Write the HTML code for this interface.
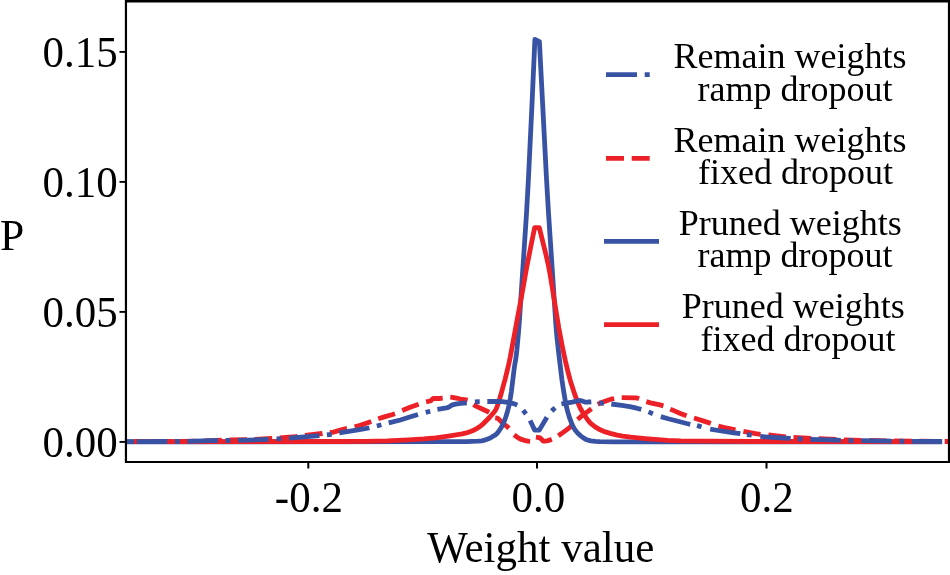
<!DOCTYPE html>
<html>
<head>
<meta charset="utf-8">
<title>Weight distribution</title>
<style>
html, body { margin: 0; padding: 0; background: #ffffff; }
body { width: 950px; height: 575px; overflow: hidden; font-family: "Liberation Serif", serif; }
svg { display: block; will-change: transform; }
svg text { font-family: "Liberation Serif", serif; fill: #000; }
</style>
</head>
<body>
<svg width="950" height="575" viewBox="0 0 950 575">
<rect x="0" y="0" width="950" height="575" fill="#ffffff"/>
<!-- curves -->
<g fill="none" stroke-width="4.8" stroke-linecap="butt">
<path d="M279.8,437.9 L295.5,436.6 L297.3,436.4 M305.0,435.3 L322.0,433.5 L322.5,433.4 M329.9,432.7 L333.5,432.1 L339.5,430.4 L346.0,428.6 L347.0,428.4 M354.6,426.9 L359.5,425.6 L367.0,423.0 L371.3,421.5 M378.2,418.8 L383.5,417.1 L392.5,414.5 L395.0,413.7 M402.2,410.4 L409.5,407.5 L418.7,404.3 M426.1,401.9 L430.0,401.0 L430.5,400.8 L431.0,400.5 L432.5,399.1 L433.0,398.7 L433.5,398.5 L439.5,398.5 L442.7,398.2 M450.3,397.2 L452.5,397.4 L456.5,398.2 L460.5,399.0 L466.0,399.8 L467.6,400.2 M473.4,404.6 L476.0,406.1 L487.0,411.2 L489.1,412.4 M495.2,417.9 L497.0,418.1 L498.0,418.6 L499.5,419.9 L502.0,422.5 L504.5,424.6 L507.5,426.9 L509.0,428.3 M514.1,434.8 L517.0,437.0 L519.5,438.5 L521.5,439.4 L525.5,440.7 L528.0,441.2 L530.1,441.4 M535.9,437.1 L539.0,437.5 L539.5,437.6 L540.0,437.9 L541.0,438.8 L542.5,440.4 L543.0,440.9 L543.5,441.1 L544.5,441.2 L547.0,440.8 L549.5,440.2 L551.8,439.2 M558.3,435.8 L561.5,433.6 L569.5,427.6 L572.0,425.3 L572.2,425.1 M577.6,419.5 L581.5,416.2 L588.0,411.3 L591.5,408.7 M597.7,404.4 L601.0,402.8 L606.5,400.8 L611.5,399.1 L614.2,398.5 M621.7,397.6 L634.5,397.8 L636.5,397.9 L637.5,398.2 L639.1,398.8 M646.3,401.6 L650.5,402.8 L660.0,404.9 L663.4,405.9 M670.3,409.1 L681.0,413.7 L686.6,415.8 M694.0,418.0 L708.5,422.6 L710.8,423.4 M718.3,426.1 L724.5,427.6 L735.5,429.8 M743.4,431.3 L755.5,433.6 L760.5,434.3 L760.7,434.3 M768.4,434.9 L779.0,436.2 L785.9,436.9 M793.5,437.5 L811.1,438.4 M254.6,439.3 L272.2,438.5 M229.4,440.0 L247.0,439.6 M204.2,440.9 L221.8,440.2 M179.0,441.4 L196.6,441.1 M153.8,441.6 L171.4,441.5 M134.0,441.6 L146.2,441.6 M818.7,438.7 L836.3,439.5 M843.9,439.8 L861.5,440.3 M869.1,440.5 L886.7,440.8 M894.3,440.9 L911.9,441.2 M919.5,441.2 L937.1,441.4 M944.7,441.5 L948.0,441.5" stroke="#ec2027"/>
<path d="M127.0,441.8 L453.9,441.7 L466.4,441.6 L477.9,441.2 L481.9,440.8 L484.4,440.2 L488.4,438.8 L491.4,437.3 L495.4,434.9 L496.9,433.6 L498.4,431.8 L500.9,428.0 L502.9,424.3 L504.4,420.9 L505.9,416.8 L507.4,411.8 L508.9,405.8 L510.4,397.9 L511.4,391.3 L514.4,367.0 L514.9,363.8 L515.4,361.3 L515.9,358.2 L516.9,349.7 L518.4,333.3 L519.4,320.8 L522.4,275.5 L526.4,215.1 L528.4,179.6 L531.9,106.4 L534.9,39.3 L539.4,41.7 L546.4,176.9 L548.4,211.3 L555.9,325.2 L556.9,336.9 L558.4,350.5 L561.9,379.5 L563.4,389.6 L565.4,401.6 L566.4,406.6 L567.9,412.4 L569.4,417.3 L571.4,422.7 L572.9,426.2 L574.4,428.9 L575.9,431.0 L578.4,433.8 L580.9,436.1 L583.4,437.9 L585.9,439.4 L587.9,440.1 L590.8,440.8 L595.3,441.4 L599.8,441.6 L614.8,441.8 L942.0,441.8" stroke="#3953a4" stroke-linejoin="round"/>
<path d="M134.0,441.6 L338.8,441.5 L364.8,441.4 L387.3,440.9 L408.3,439.9 L423.8,438.9 L435.8,437.8 L448.3,436.1 L462.3,433.9 L466.3,432.9 L471.2,431.2 L474.7,429.7 L477.2,428.3 L480.7,425.9 L483.2,423.8 L489.7,417.2 L494.2,412.0 L495.7,409.8 L496.7,407.7 L498.7,402.0 L500.7,395.3 L505.2,378.8 L508.2,366.7 L510.2,357.2 L517.2,319.5 L521.7,295.6 L526.7,267.4 L531.7,242.0 L534.7,227.6 L539.3,227.6 L546.3,256.1 L548.3,265.0 L550.3,275.6 L556.3,312.7 L558.8,327.9 L562.3,346.4 L565.3,360.6 L568.3,373.2 L570.8,382.3 L573.8,391.6 L577.3,401.4 L579.3,406.2 L581.3,410.1 L583.8,414.2 L587.8,420.0 L589.8,422.4 L592.3,424.7 L594.8,426.6 L597.8,428.5 L601.3,430.3 L605.3,431.9 L610.2,433.4 L617.2,435.1 L622.7,436.1 L630.7,437.2 L645.2,438.6 L667.7,440.3 L680.7,440.8 L704.2,441.1 L753.6,441.5 L942.0,441.6" stroke="#ec2027" stroke-linejoin="round"/>
<path d="M136.8,441.6 L167.3,441.5 M187.3,441.3 L202.5,440.9 L209.5,440.6 L217.8,440.5 M238.0,440.3 L260.5,439.7 L268.5,439.4 M289.0,438.2 L319.4,435.6 M339.3,432.9 L360.9,429.3 L368.9,428.0 L369.4,427.9 M388.7,422.9 L400.4,420.0 L408.9,417.3 L418.0,414.5 M437.4,409.3 L441.9,408.6 L446.4,407.8 L448.4,407.3 L449.4,406.8 L451.9,405.1 L453.4,404.6 L456.9,403.8 L460.9,403.3 L466.8,402.8 M487.3,401.5 L497.4,401.4 L502.4,401.7 L509.4,402.7 L512.4,403.3 L515.4,404.3 L517.3,405.1 M530.1,420.5 L534.7,430.1 L539.3,430.1 L546.9,417.2 M561.4,404.0 L564.7,403.3 L572.2,402.2 L577.7,400.8 L579.7,400.5 L580.7,400.6 L582.2,401.0 L584.2,401.8 L585.2,402.1 L588.2,402.0 L591.3,401.8 M611.3,404.0 L621.7,405.3 L629.7,406.6 L636.7,408.2 L641.3,409.4 M660.8,416.6 L668.2,418.7 L686.7,423.5 L690.3,424.3 M710.2,429.1 L718.2,430.5 L733.7,432.8 L740.3,433.7 M760.3,436.4 L771.7,437.3 L790.7,438.4 M810.3,439.4 L837.2,440.2 L840.8,440.3 M861.3,440.7 L891.8,441.1 M911.8,441.3 L942.2,441.5 M175.0,441.5 L179.8,441.4 M225.6,440.5 L230.4,440.5 M276.5,438.9 L281.3,438.7 M326.9,434.9 L331.7,434.3 M376.8,426.0 L381.4,424.8 M425.7,412.4 L430.3,411.2 M474.9,401.9 L479.4,401.6 L479.7,401.6 M523.1,410.2 L526.0,414.0 M551.7,411.0 L553.7,409.0 L555.2,407.8 M599.0,402.8 L603.2,403.3 L603.8,403.3 M648.5,411.9 L652.9,413.7 M697.0,425.6 L701.6,426.8 M746.9,434.6 L751.7,435.2 M797.7,438.8 L802.5,439.0 M848.6,440.5 L853.4,440.6 M899.5,441.2 L904.3,441.3" stroke="#3953a4" stroke-linejoin="round"/>
<path d="M126.9,441.6 L133.9,441.6" stroke="#3953a4"/>
<path d="M945,441.5 L948,441.5" stroke="#ec2027"/>
</g>
<!-- frame -->
<g stroke="#000" fill="none">
<line x1="125.95" y1="0" x2="125.95" y2="463" stroke-width="2.2"/>
<line x1="949" y1="0" x2="949" y2="463" stroke-width="2.2"/>
<line x1="125" y1="1.2" x2="950" y2="1.2" stroke-width="2.4"/>
<line x1="125" y1="462.0" x2="950" y2="462.0" stroke-width="2.2"/>
<!-- y ticks -->
<g stroke-width="1.9">
<line x1="119.5" y1="51.9" x2="125.5" y2="51.9"/>
<line x1="119.5" y1="181.9" x2="125.5" y2="181.9"/>
<line x1="119.5" y1="311.9" x2="125.5" y2="311.9"/>
<line x1="119.5" y1="441.9" x2="125.5" y2="441.9"/>
</g>
<!-- x ticks -->
<g stroke-width="2">
<line x1="308.3" y1="462" x2="308.3" y2="468.5"/>
<line x1="537" y1="462" x2="537" y2="468.5"/>
<line x1="766.5" y1="462" x2="766.5" y2="468.5"/>
</g>
</g>
<!-- tick labels -->
<g font-size="43" text-anchor="end">
<text transform="translate(117.7,66.9) scale(1,1.055)">0.15</text>
<text transform="translate(117.7,196.9) scale(1,1.055)">0.10</text>
<text transform="translate(117.7,326.9) scale(1,1.055)">0.05</text>
<text transform="translate(117.7,456.9) scale(1,1.055)">0.00</text>
</g>
<g font-size="43" text-anchor="middle">
<text transform="translate(308.9,511.6) scale(1,1.05)">-0.2</text>
<text transform="translate(538.4,511.6) scale(1,1.05)">0.0</text>
<text transform="translate(766.9,511.6) scale(1,1.05)">0.2</text>
<text transform="translate(540.8,562.0) scale(1,1.02)">Weight value</text>
</g>
<text x="0" y="249.9" font-size="43.5">P</text>
<!-- legend -->
<g fill="none" stroke-width="4.8" stroke-linecap="butt">
<path d="M606,74.6 H637 M644.7,74.6 H649.7" stroke="#3953a4"/>
<path d="M606,158.3 H624 M631.7,158.3 H649.7" stroke="#ec2027"/>
<path d="M604,241.3 H659" stroke="#3953a4"/>
<path d="M604,324.7 H659" stroke="#ec2027"/>
</g>
<g font-size="36" text-anchor="middle">
<text x="790" y="68.1">Remain weights</text>
<text x="795" y="100.7">ramp dropout</text>
<text x="790" y="151.7">Remain weights</text>
<text x="795.6" y="183.5">fixed dropout</text>
<text x="790.2" y="234.9">Pruned weights</text>
<text x="795" y="267.0">ramp dropout</text>
<text x="793.3" y="318.1">Pruned weights</text>
<text x="798.0" y="351.0">fixed dropout</text>
</g>
</svg>
</body>
</html>
